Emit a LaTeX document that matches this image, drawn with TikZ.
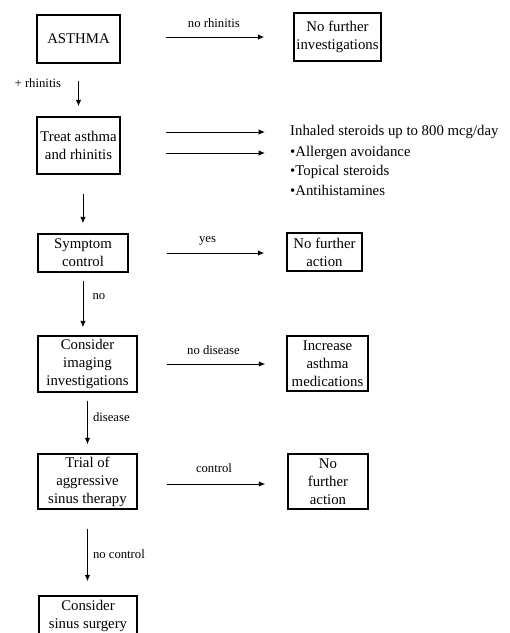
\documentclass[tikz,border=0pt]{standalone}
\usepackage{fontspec}
\setmainfont{Liberation Serif}
\usetikzlibrary{arrows.meta,positioning}

\begin{document}
\begin{tikzpicture}[x=1pt,y=-1pt,
    box/.style={draw, line width=1.4pt, align=center, inner sep=2pt,
      font=\fontsize{14.8}{18}\selectfont},
    arr/.style={-{Latex[length=6.5pt,width=5.5pt]}, line width=1pt},
    lbl/.style={font=\fontsize{12.7}{15}\selectfont, inner sep=0pt},
    item/.style={anchor=west, inner sep=0pt, font=\fontsize{14.8}{18}\selectfont}]
  \useasboundingbox (0,0) rectangle (510,633);

  % left column
  \node[box, minimum width=83pt, minimum height=48pt] (asthma) at (78.5,39) {ASTHMA};
  \node[box, minimum width=83pt, minimum height=57pt] (treat) at (78.5,145.5) {Treat asthma\\and rhinitis};
  \node[box, minimum width=90pt, minimum height=38pt] (symptom) at (83,253) {Symptom\\control};
  \node[box, minimum width=99pt, minimum height=56pt] (imaging) at (87.5,364) {Consider\\imaging\\investigations};
  \node[box, minimum width=99pt, minimum height=55pt] (trial) at (87.5,481.5) {Trial of\\aggressive\\sinus therapy};
  \node[box, minimum width=98pt, minimum height=40pt] (surgery) at (88,616) {Consider\\sinus surgery};

  % right column
  \node[box, minimum width=87pt, minimum height=48pt] (noinv) at (337.5,37) {No further\\investigations};
  \node[box, minimum width=75pt, minimum height=38pt] (noact) at (324.5,252) {No further\\action};
  \node[box, minimum width=81pt, minimum height=55pt] (increase) at (327.5,363.5) {Increase\\asthma\\medications};
  \node[box, minimum width=80pt, minimum height=55pt] (noactb) at (328,481.5) {No\\further\\action};

  \node[item] (inhaled) at (290,132) {Inhaled steroids up to 800 mcg/day};
  \node[item] (allergen) at (290,153) {\textbullet Allergen avoidance};
  \node[item, below=18.5pt of allergen.west, anchor=west] (topical) {\textbullet Topical steroids};
  \node[item, below=18.5pt of topical.west, anchor=west] (antihist) {\textbullet Antihistamines};

  % horizontal arrows
  \draw[arr, shorten <=45pt, shorten >=29pt] (asthma.east |- noinv.west) -- (noinv.west)
    node[lbl, pos=0.54, above=9pt] {no rhinitis};
  \draw[arr, shorten <=45pt, shorten >=25pt] (treat.east |- inhaled.west) -- (inhaled.west);
  \draw[arr, shorten <=45pt, shorten >=25pt] (treat.east |- allergen.west) -- (allergen.west);
  \draw[arr, shorten <=38pt, shorten >=22pt] (symptom.east) -- (symptom.east -| noact.west)
    node[lbl, pos=0.5, above=7pt] {yes};
  \draw[arr, shorten <=29pt, shorten >=21pt] (imaging.east) -- (imaging.east -| increase.west)
    node[lbl, pos=0.51, above=9pt] {no disease};
  \draw[arr, shorten <=29pt, shorten >=22pt] (trial.east |- 0,484) -- (noactb.west |- 0,484)
    node[lbl, pos=0.51, above=11pt] {control};

  % vertical arrows
  \draw[arr, shorten <=17pt, shorten >=10pt] (asthma.south) -- (treat.north)
    node[lbl, pos=0.37, left=17pt] {+ rhinitis};
  \draw[arr, shorten <=19pt, shorten >=10pt] (treat.south -| symptom.north) -- (symptom.north);
  \draw[arr, shorten <=8pt, shorten >=8pt] (symptom.south) -- (symptom.south |- imaging.north)
    node[lbl, pos=0.375, right=9pt] {no};
  \draw[arr, shorten <=8pt, shorten >=9pt] (imaging.south) -- (trial.north)
    node[lbl, pos=0.4, right=5pt] {disease};
  \draw[arr, shorten <=19pt, shorten >=14pt] (trial.south) -- (trial.south |- surgery.north)
    node[lbl, pos=0.52, right=5pt] {no control};
\end{tikzpicture}
\end{document}
